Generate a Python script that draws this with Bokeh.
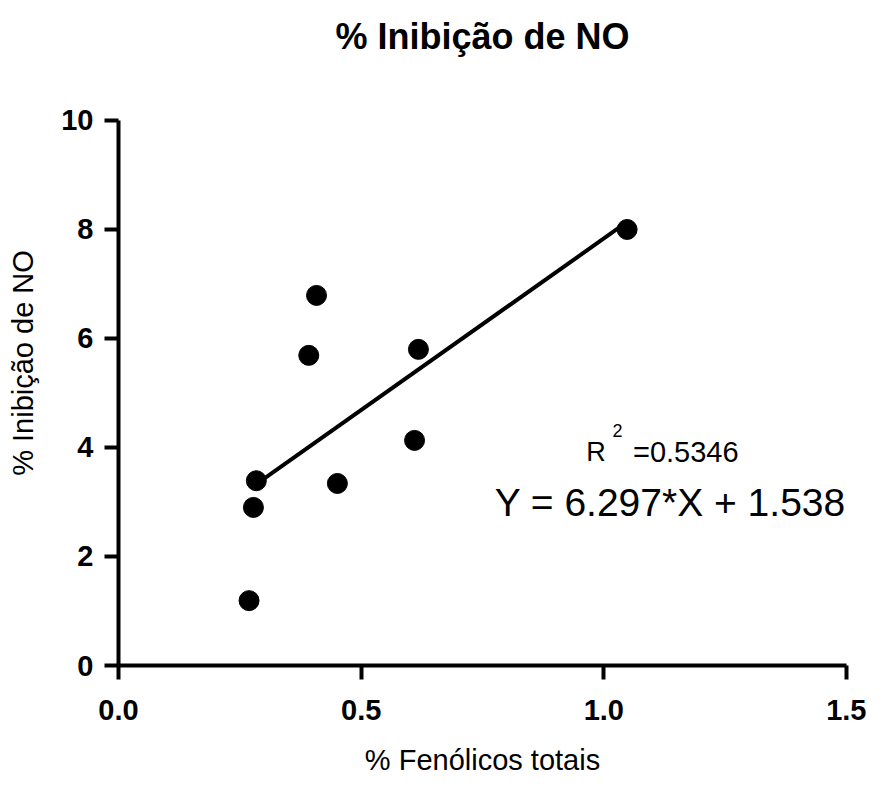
from bokeh.plotting import figure
from bokeh.models import Range1d, FixedTicker, NumeralTickFormatter, ColumnDataSource
from bokeh.core.properties import value
from bokeh.embed import file_html
from bokeh.resources import INLINE

# Data
fenolicos = [0.269, 0.278, 0.284, 0.392, 0.408, 0.451, 0.610, 0.618, 1.048]
inibicao = [1.19, 2.90, 3.39, 5.69, 6.79, 3.34, 4.13, 5.80, 8.00]
slope = 6.297
intercept = 1.538
fit_x = [0.284, 1.048]
fit_y = [slope * v + intercept for v in fit_x]
x_ticks = [0.0, 0.5, 1.0, 1.5]
y_ticks = [0, 2, 4, 6, 8, 10]
y_axis_bounds = (0, 10)
r2_text = "0.5346"
eq_text = "Y = 6.297*X + 1.538"
title_text = "% Inibição de NO"

FONT = "Liberation Sans"

# the y range extends a little above 10 so the title sits higher; the axis is bounded to 0-10
p = figure(width=866, height=778, output_backend="svg", toolbar_location=None,
           x_range=Range1d(0, 1.5), y_range=Range1d(0, 11.1),
           min_border_left=118, min_border_right=20, min_border_top=60, min_border_bottom=113)

p.title.text = title_text
p.title.align = "center"
p.title.standoff = 8
p.title.text_font = FONT
p.title.text_font_size = "36px"
p.title.text_font_style = "bold"
p.title.text_color = "black"

p.outline_line_color = None
p.xgrid.visible = False
p.ygrid.visible = False
p.background_fill_color = "white"
p.border_fill_color = "white"

xax = p.below[0]
yax = p.left[0]
for ax in (xax, yax):
    ax.axis_line_width = 4
    ax.axis_line_color = "black"
    ax.major_tick_line_width = 4
    ax.major_tick_line_color = "black"
    ax.major_tick_out = 14
    ax.major_tick_in = 0
    ax.minor_tick_line_color = None
    ax.major_label_text_font = FONT
    ax.major_label_text_font_size = "29px"
    ax.major_label_text_font_style = "bold"
    ax.major_label_text_color = "black"
    ax.axis_label_text_font = FONT
    ax.axis_label_text_font_size = "29px"
    ax.axis_label_text_font_style = "normal"
    ax.axis_label_text_color = "black"

xax.ticker = FixedTicker(ticks=x_ticks)
xax.formatter = NumeralTickFormatter(format="0.0")
xax.major_label_standoff = 20
xax.axis_label = "% Fenólicos totais"
xax.axis_label_standoff = 21

yax.ticker = FixedTicker(ticks=y_ticks)
yax.bounds = y_axis_bounds
yax.major_label_standoff = 11
yax.axis_label = "% Inibição de NO"
yax.axis_label_standoff = 19

src = ColumnDataSource(dict(x=fenolicos, y=inibicao))
p.line(fit_x, fit_y, line_color="black", line_width=4)
p.scatter("x", "y", source=src, size=20, fill_color="black", line_color="black")

p.text(x=[0.964], y=[3.91], text=["R"], text_font=value(FONT), text_font_size="27px",
       text_baseline="alphabetic", text_align="left", text_color="black")
p.text(x=[1.018], y=[4.31], text=["2"], text_font=value(FONT), text_font_size="18px",
       text_baseline="alphabetic", text_align="left", text_color="black")
p.text(x=[1.06], y=[3.91], text=["=" + r2_text], text_font=value(FONT), text_font_size="29px",
       text_baseline="alphabetic", text_align="left", text_color="black")
p.text(x=[0.775], y=[2.99], text=[eq_text], text_font=value(FONT), text_font_size="39px",
       text_baseline="middle", text_align="left", text_color="black")

open("out.html", "w").write(file_html(p, INLINE))
